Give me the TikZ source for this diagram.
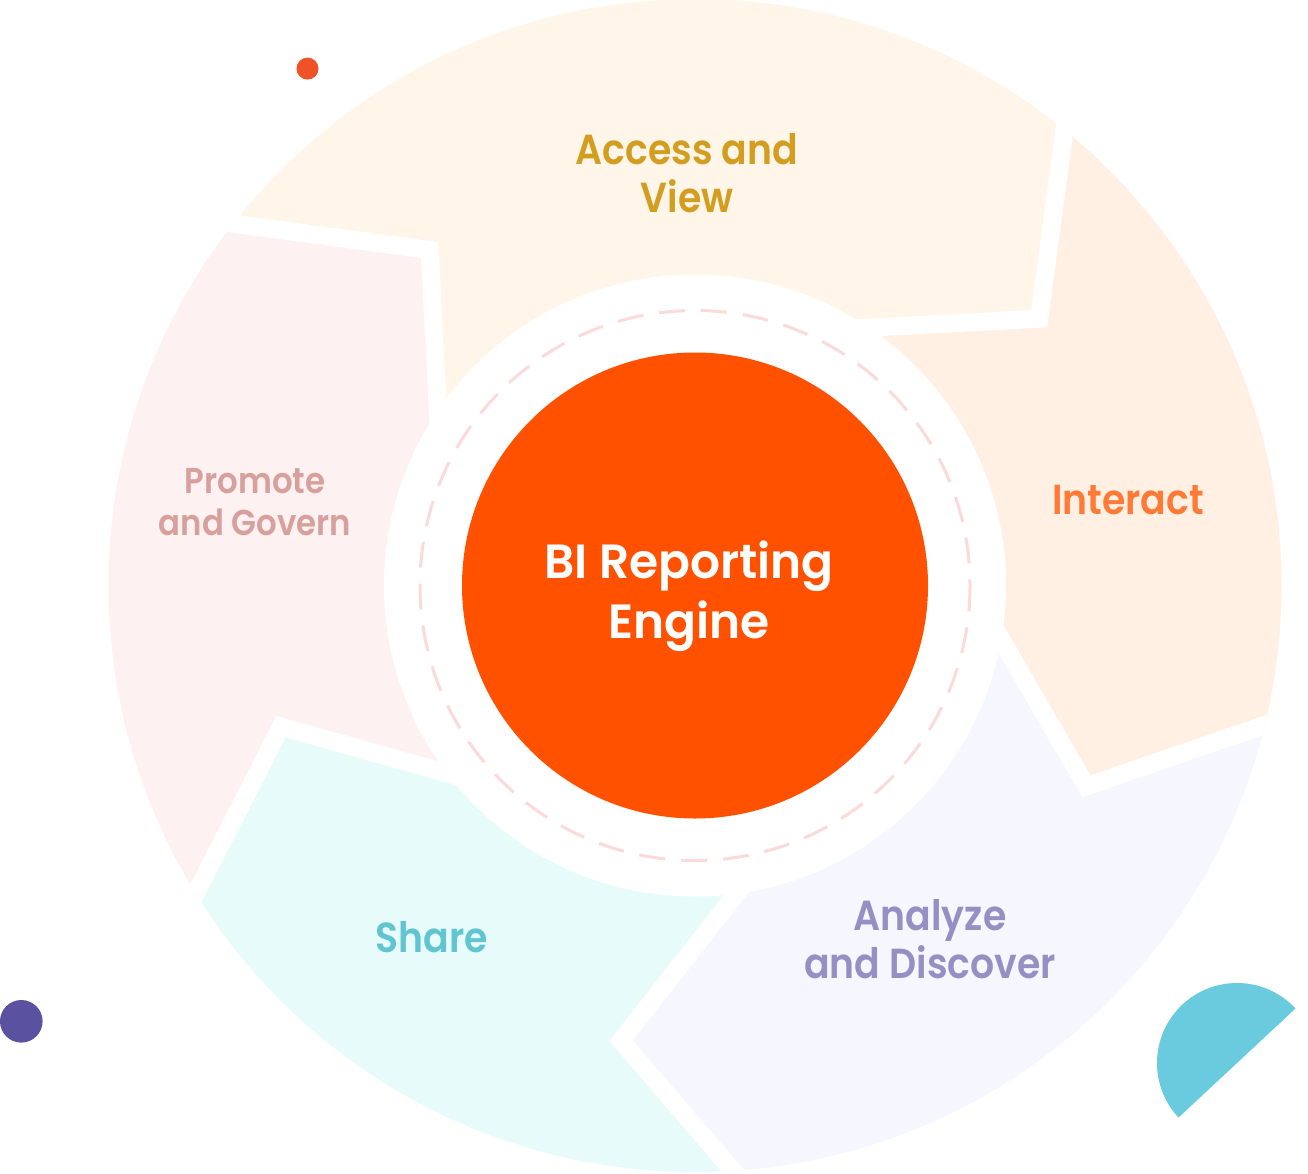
\documentclass[tikz,border=0pt]{standalone}
\usepackage{fontspec}
\setmainfont{Poppins}
\newfontfamily\labfont{Poppins SemiBold}[FakeStretch=0.9]
\newfontfamily\corefont{Poppins SemiBold}[FakeStretch=0.98]
\definecolor{accfill}{RGB}{255,246,233}
\definecolor{intfill}{RGB}{255,240,227}
\definecolor{anafill}{RGB}{246,246,254}
\definecolor{shafill}{RGB}{232,251,251}
\definecolor{profill}{RGB}{254,241,241}
\definecolor{acctxt}{RGB}{211,158,32}
\definecolor{inttxt}{RGB}{255,122,54}
\definecolor{anatxt}{RGB}{150,143,196}
\definecolor{shatxt}{RGB}{96,197,208}
\definecolor{protxt}{RGB}{216,160,156}
\definecolor{corecol}{RGB}{255,81,0}
\definecolor{dashcol}{RGB}{251,218,218}
\definecolor{dotred}{RGB}{240,82,40}
\definecolor{dotpurple}{RGB}{90,82,160}
\definecolor{halfteal}{RGB}{106,203,223}
\begin{document}
\begin{tikzpicture}[x=1pt,y=-1pt,
  lbl/.style={font=\labfont\fontsize{42}{48}\selectfont, align=center, inner sep=0pt},
  gapline/.style={draw=white, line width=18pt, line join=miter}]
\useasboundingbox (0,0) rectangle (1308,1174);
\fill[white] (0,0) rectangle (1308,1174);
\coordinate (C) at (695,585.5);
% boundaries: outer end, tip, inner end
\coordinate (b5o) at (40.3,198);    \coordinate (b5t) at (429.7,250);  \coordinate (b5i) at (440.9,470);
\coordinate (b1o) at (1089.4,-56.3); \coordinate (b1t) at (1039.2,318.7); \coordinate (b1i) at (805.4,331.1);
\coordinate (b2o) at (1445.1,663.1); \coordinate (b2t) at (1086.3,786.3); \coordinate (b2i) at (971.1,587.4);
\coordinate (b3o) at (847,1303.3);   \coordinate (b3t) at (621,1040.7);  \coordinate (b3i) at (776.3,842.7);
\coordinate (b4o) at (111,1059.3);   \coordinate (b4t) at (281,726.7);   \coordinate (b4i) at (505.8,789.6);
\coordinate (fA) at (405,-579);
\coordinate (fI) at (1773.6,59);
\coordinate (fN) at (1586.8,1388);
\coordinate (fS) at (294.4,1716);
\coordinate (fP) at (-501.6,675);
\begin{scope}
  \clip (C) circle[radius=586.5];
  \fill[accfill] (b5o) -- (b5t) -- (b5i) -- (C) -- (b1i) -- (b1t) -- (b1o) -- (fA) -- cycle;
  \fill[intfill] (b1o) -- (b1t) -- (b1i) -- (C) -- (b2i) -- (b2t) -- (b2o) -- (fI) -- cycle;
  \fill[anafill] (b2o) -- (b2t) -- (b2i) -- (C) -- (b3i) -- (b3t) -- (b3o) -- (fN) -- cycle;
  \fill[shafill] (b3o) -- (b3t) -- (b3i) -- (C) -- (b4i) -- (b4t) -- (b4o) -- (fS) -- cycle;
  \fill[profill] (b4o) -- (b4t) -- (b4i) -- (C) -- (b5i) -- (b5t) -- (b5o) -- (fP) -- cycle;
  \draw[gapline] (b1o) -- (b1t) -- (b1i);
  \draw[gapline] (b2o) -- (b2t) -- (b2i);
  \draw[gapline] (b3o) -- (b3t) -- (b3i);
  \draw[gapline] (b4o) -- (b4t) -- (b4i);
  \draw[gapline] (b5o) -- (b5t) -- (b5i);
\end{scope}
\fill[white] (C) circle[radius=311];
\draw[dashcol, line width=3pt, dash pattern=on 26pt off 16pt] (C) circle[radius=275];
\node[circle, fill=corecol, inner sep=0pt, minimum size=466pt] (core) at (C) {};
\node[lbl, text=white, font=\corefont\fontsize{48}{60}\selectfont] (engine) at (689,596) {BI Reporting\\Engine};
\node[lbl, text=acctxt] (access) at (687,173) {Access and\\View};
\node[lbl, text=inttxt, anchor=base] (interact) at (1128,514) {Interact};
\node[lbl, text=anatxt] (analyze) at (930,939) {Analyze\\and Discover};
\node[lbl, text=shatxt, anchor=base] (share) at (432,952) {Share};
\node[lbl, text=protxt, font=\labfont\fontsize{36}{42}\selectfont] (promote) at (255,502) {Promote\\and Govern};
\fill[dotred] (307.5,68.6) circle[radius=11];
\fill[dotpurple] (21.3,1021.3) circle[radius=21.3];
\fill[halfteal] (1237,1063) ++(-43:80) arc[start angle=-43, end angle=-223, radius=80] -- cycle;
\end{tikzpicture}
\end{document}
